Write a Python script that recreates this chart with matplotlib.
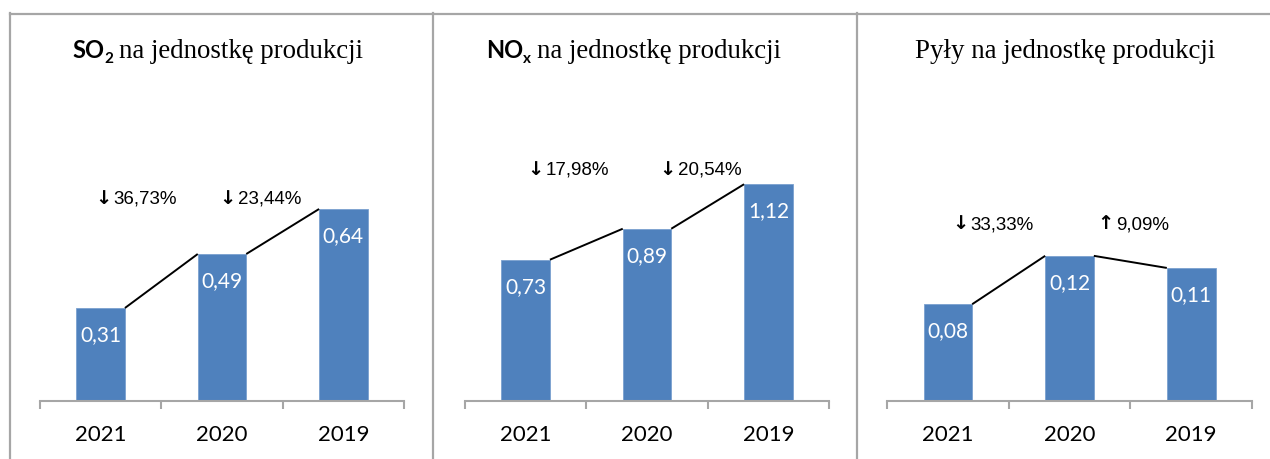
import matplotlib
matplotlib.use("Agg")
import matplotlib.pyplot as plt
from matplotlib.lines import Line2D

# data
years = ["2021", "2020", "2019"]
so2 = [0.31, 0.49, 0.64]
nox = [0.73, 0.89, 1.12]
pyly = [0.08, 0.12, 0.11]
so2_changes = ["36,73%", "23,44%"]
nox_changes = ["17,98%", "20,54%"]
pyly_changes = ["33,33%", "9,09%"]

W, H = 1270, 459
BAR = "#4F81BD"
GRID = "#a6a6a6"

fig = plt.figure(figsize=(W / 100, H / 100), dpi=100)


def px(x, y):
    # pixel coords (from top-left) -> figure fraction
    return x / W, 1 - y / H


# panel settings: x range in pixels, y max, annotation layout
panels = [
    dict(vals=so2, changes=so2_changes, x0=40, x1=404, ymax=1.0,
         ann_y=0.657, ann_dx=[0.107, 0.13], head=("SO", "2"), tx=72),
    dict(vals=nox, changes=nox_changes, x0=465, x1=829, ymax=1.55,
         ann_y=1.168, ann_dx=[0.165, 0.255], head=("NO", "x"), tx=486),
    dict(vals=pyly, changes=pyly_changes, x0=887, x1=1252, ymax=0.248,
         ann_y=0.142, ann_dx=[0.185, 0.38], head=None, tx=915),
]

bottom, top = 401, 101
width = 0.4
xs = list(range(len(years)))

fig.canvas.draw()
renderer = fig.canvas.get_renderer()

for p in panels:
    l, b = px(p["x0"], bottom)
    ax = fig.add_axes([l, b, (p["x1"] - p["x0"]) / W, (bottom - top) / H])
    vals = p["vals"]
    ax.bar(xs, vals, width=width, color=BAR, edgecolor="#7aa0cf", linewidth=0.6, zorder=2)
    ax.set_xlim(-0.5, 2.5)
    ax.set_ylim(0, p["ymax"])

    # connecting lines: right top corner of a bar -> left top corner of next bar
    for i in range(len(vals) - 1):
        ax.plot([xs[i] + width / 2, xs[i + 1] - width / 2], [vals[i], vals[i + 1]],
                color="black", lw=1.4, zorder=3, solid_capstyle="butt")

    # value labels inside bars
    for x, v in zip(xs, vals):
        ax.annotate(f"{v:.2f}".replace(".", ","), (x, v), xytext=(0, -19.5),
                    textcoords="offset points", ha="center", va="center",
                    color="white", fontsize=15, family="Lato", zorder=4)

    # change annotations: arrow sits just left of the percentage
    for i, txt in enumerate(p["changes"]):
        arrow = "\u2193" if vals[i] < vals[i + 1] else "\u2191"
        xa = xs[i] + p["ann_dx"][i]
        ax.annotate(arrow, (xa, p["ann_y"]), xytext=(-1.5, 0),
                    textcoords="offset points", ha="right", va="baseline",
                    fontsize=14, fontweight="bold", family="DejaVu Sans")
        ax.text(xa, p["ann_y"], txt, ha="left", va="baseline",
                fontsize=13.5, family="Liberation Sans")

    for s in ["top", "right", "left"]:
        ax.spines[s].set_visible(False)
    ax.spines["bottom"].set_color(GRID)
    ax.spines["bottom"].set_linewidth(1.5)
    ax.set_yticks([])
    ax.set_xticks([-0.5, 0.5, 1.5, 2.5])
    ax.set_xticklabels([])
    ax.tick_params(axis="x", which="major", length=6, width=1.5, color=GRID, direction="out")
    ax.set_xticks(xs, minor=True)
    ax.set_xticklabels(years, minor=True, fontsize=16, family="Lato")
    ax.tick_params(axis="x", which="minor", length=0, pad=17.5)
    ax.patch.set_visible(False)

    # title made of mixed fonts
    x = p["tx"]
    base = 58
    if p["head"]:
        t1 = fig.text(*px(x, base), p["head"][0], fontsize=17, fontweight="bold",
                      family="Lato", va="baseline", ha="left")
        bb = t1.get_window_extent(renderer)
        x = bb.x1
        t2 = fig.text(*px(x, base + 5), p["head"][1], fontsize=11, fontweight="bold",
                      family="Lato", va="baseline", ha="left")
        bb = t2.get_window_extent(renderer)
        x = bb.x1 + 6
        title = "na jednostkę produkcji"
    else:
        title = "Pyły na jednostkę produkcji"
    fig.text(*px(x, base), title, fontsize=19.4, family="Liberation Serif",
             va="baseline", ha="left")

# frame lines
for seg in [((10, 1270), (13.5, 13.5)), ((10, 10), (13, 459)),
            ((432.5, 432.5), (13, 459)), ((856.5, 856.5), (13, 459))]:
    xx = [seg[0][0] / W, seg[0][1] / W]
    yy = [1 - seg[1][0] / H, 1 - seg[1][1] / H]
    fig.add_artist(Line2D(xx, yy, color=GRID, lw=1.6, transform=fig.transFigure))

fig.savefig("out.png", dpi=100)
